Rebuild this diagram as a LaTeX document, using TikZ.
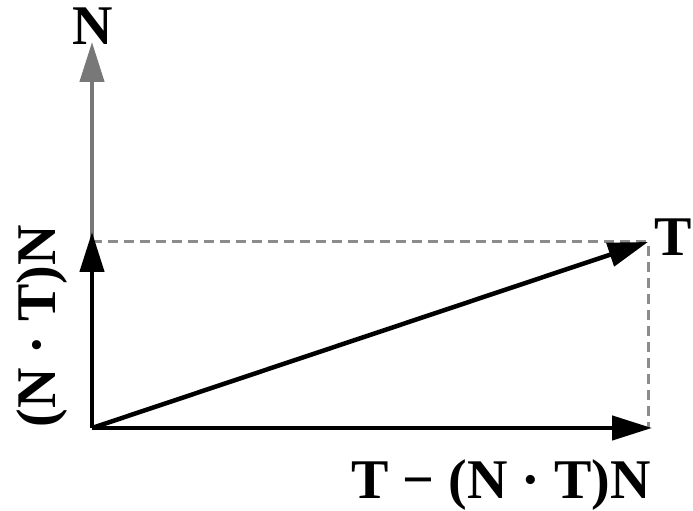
\documentclass[tikz,border=0pt]{standalone}
\usepackage{fontspec}
\setmainfont{Liberation Serif}
\usepackage{tikz}
\usetikzlibrary{arrows.meta}
\definecolor{vecgray}{RGB}{120,120,120}
\definecolor{dashgray}{RGB}{140,140,140}

\begin{document}
\begin{tikzpicture}[
    x=1pt, y=1pt,
    every node/.style={font=\fontsize{56}{58}\selectfont\bfseries, inner sep=0pt},
    vecArrow/.style={line width=4.5pt, -{Triangle[length=40pt, width=24pt]}},
    normalArrow/.style={vecArrow, draw=vecgray},
    projLine/.style={draw=dashgray, line width=3pt, dash pattern=on 10pt off 6pt}
]
    \useasboundingbox (0,0) rectangle (693,511);

    % points of the picture
    \coordinate (orig) at (92,83);
    \coordinate (nTip) at (92,469);
    \coordinate (projTip) at (92,279);
    \coordinate (tTip) at (648,269);
    \coordinate (perpTip) at (652,83);
    \coordinate (corner) at (648,83);
    \coordinate (leftEnd) at (92,269);

    % labels
    \node [anchor=base] (nLabel) at (93,466) {N};
    \node [anchor=base west] (tLabel) at (654,255) {T};
    \node [anchor=base, rotate=90] (projLabel) at (55,185) {(N · T)N};
    \node [anchor=base] (perpLabel) at (501,12) {T − (N · T)N};

    % dashed projections
    \draw [projLine] (leftEnd) -- (tTip) -- (corner);

    % vectors
    \draw [normalArrow] (orig) -- (nTip);
    \draw [vecArrow] (orig) -- (projTip);
    \draw [vecArrow] (orig) -- (tTip);
    \draw [vecArrow] (orig) -- (perpTip);
\end{tikzpicture}
\end{document}
